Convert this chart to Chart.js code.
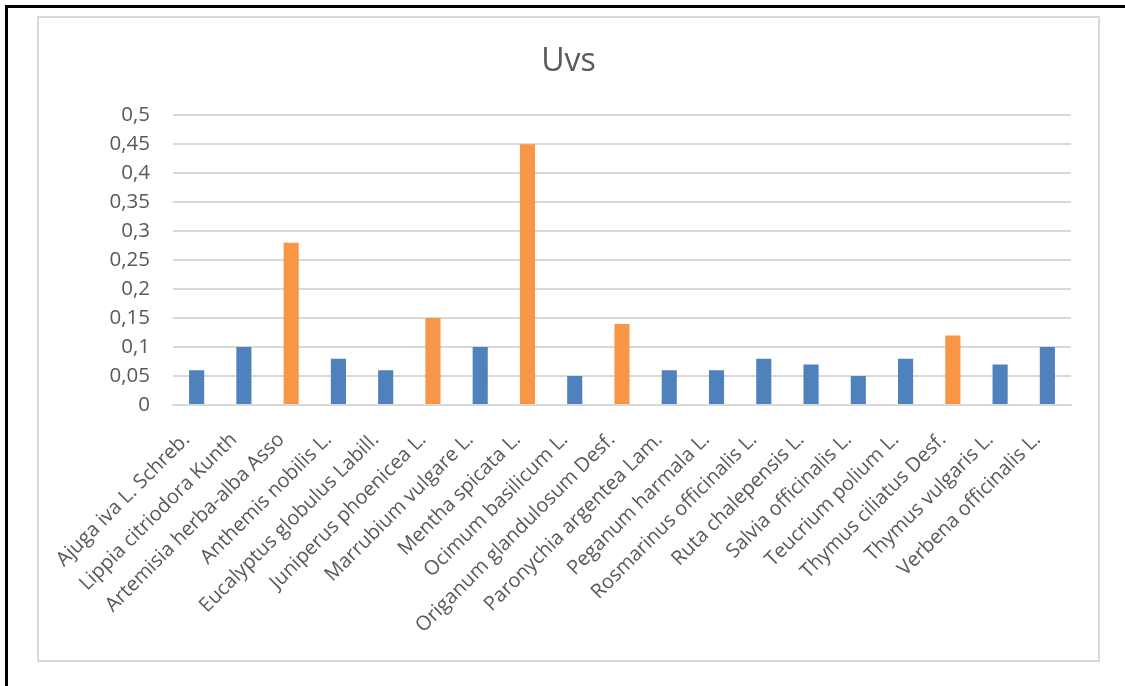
<!DOCTYPE html>
<html>
<head>
<meta charset="utf-8">
<script src="https://cdn.jsdelivr.net/npm/chart.js@4"></script>
<style>
  body { margin: 0; background: #fff; width: 1125px; height: 686px; overflow: hidden; position: relative; }
  #frame { position: absolute; left: 5px; top: 5px; width: 1200px; height: 800px; border-left: 3px solid #000; border-top: 3px solid #000; }
  #box { position: absolute; left: 37px; top: 16px; width: 1059px; height: 642px; border: 2px solid #d9d9d9; }
  #box canvas { display: block; }
</style>
</head>
<body>
<div id="frame"></div>
<div id="box"><canvas id="uvsChart" width="1059" height="642"></canvas></div>
<script>
// plant species (categories)
const species = [
  'Ajuga iva L. Schreb.',
  'Lippia citriodora Kunth',
  'Artemisia herba-alba Asso',
  'Anthemis nobilis L.',
  'Eucalyptus globulus Labill.',
  'Juniperus phoenicea L.',
  'Marrubium vulgare L.',
  'Mentha spicata L.',
  'Ocimum basilicum L.',
  'Origanum glandulosum Desf.',
  'Paronychia argentea Lam.',
  'Peganum harmala L.',
  'Rosmarinus officinalis L.',
  'Ruta chalepensis L.',
  'Salvia officinalis L.',
  'Teucrium polium L.',
  'Thymus ciliatus Desf.',
  'Thymus vulgaris L.',
  'Verbena officinalis L.'
];
// use value of each species
const uvs = [0.06, 0.10, 0.28, 0.08, 0.06, 0.15, 0.10, 0.45, 0.05, 0.14, 0.06, 0.06, 0.08, 0.07, 0.05, 0.08, 0.12, 0.07, 0.10];
// 1 = highlighted bar (orange)
const highlighted = [0, 0, 1, 0, 0, 1, 0, 1, 0, 1, 0, 0, 0, 0, 0, 0, 1, 0, 0];
// y axis ticks
const yTicks = [0, 0.05, 0.1, 0.15, 0.2, 0.25, 0.3, 0.35, 0.4, 0.45, 0.5];

const blue = '#4f81bd';
const orange = '#f79646';
const textColor = '#595959';
const fontFamily = "'Open Sans', sans-serif";

const ctx = document.getElementById('uvsChart').getContext('2d');
new Chart(ctx, {
    type: 'bar',
    data: {
        labels: species,
        datasets: [{
            label: 'Uvs',
            data: uvs,
            backgroundColor: highlighted.map(h => h ? orange : blue),
            borderWidth: 0,
            barPercentage: 0.32,
            categoryPercentage: 1
        }]
    },
    options: {
        responsive: false,
        animation: false,
        layout: { padding: 0 },
        plugins: {
            legend: { display: false },
            tooltip: { enabled: false },
            title: {
                display: true,
                text: 'Uvs',
                color: textColor,
                font: { family: fontFamily, size: 32, weight: 'normal' },
                padding: { top: 25, bottom: 34 }
            }
        },
        scales: {
            x: {
                grid: { display: false, drawTicks: false },
                border: { display: true, color: '#d9d9d9', width: 2 },
                ticks: {
                    color: textColor,
                    font: { family: fontFamily, size: 20 },
                    minRotation: 45,
                    maxRotation: 45,
                    autoSkip: false,
                    padding: 23,
                    labelOffset: -10
                },
                afterFit: scale => { scale.height = 255; }
            },
            y: {
                min: 0,
                max: 0.5,
                afterBuildTicks: scale => { scale.ticks = yTicks.map(v => ({ value: v })); },
                grid: { color: '#d9d9d9', lineWidth: 2, drawTicks: false },
                border: { display: false },
                ticks: {
                    color: textColor,
                    font: { family: fontFamily, size: 20.5 },
                    padding: 23,
                    callback: v => String(Math.round(v * 100) / 100).replace('.', ',')
                },
                afterFit: scale => { scale.width = 134; }
            },
            // empty right-hand spacer so the title stays centred on the box
            yRight: {
                position: 'right',
                display: true,
                grid: { display: false, drawTicks: false },
                border: { display: false },
                ticks: { display: false },
                afterFit: scale => { scale.width = 27; }
            }
        }
    }
});
</script>
</body>
</html>
